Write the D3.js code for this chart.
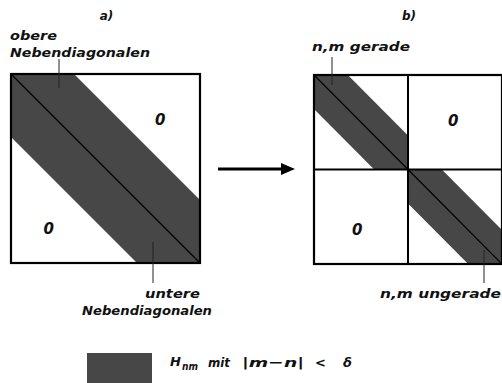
<!DOCTYPE html>
<html>
<head>
<meta charset="utf-8">
<script src="https://cdn.jsdelivr.net/npm/d3@7"></script>
<style>
  body { margin: 0; background: #fff; }
  text { font-family: "DejaVu Sans", sans-serif; font-weight: bold; font-style: italic; fill: #111; }
</style>
</head>
<body>
<svg></svg>
<script>
var width = 502;
var height = 383;

// panel data (domain 0..1 in matrix units)
var panelTitles = ["a)", "b)"];
var blocksA = [[0, 0, 1]];                     // x0, y0, size
var blocksB = [[0, 0, 0.5], [0.5, 0.5, 0.5]];
var bandWidth = [1 / 3, 0.36];                 // half width of band, fraction of block
var gridB = [0.5];
var zerosA = [[0.79, 0.24], [0.20, 0.82]];
var zerosB = [[0.74, 0.24], [0.23, 0.82]];
var zeroLabel = "0";

// annotation texts: text, x, baseline y, width in px
var labels = [
  ["obere", 10, 40, 47],
  ["Nebendiagonalen", 10, 57, 140],
  ["untere", 145, 298, 55],
  ["Nebendiagonalen", 82, 315, 130],
  ["n,m gerade", 312, 51, 98],
  ["n,m ungerade", 380, 298, 121]
];
// leader lines: x, y1, y2
var leaders = [[59, 59, 88], [153, 242, 283], [332, 57, 85], [484, 250, 283]];

// legend pieces: text, x, baseline y, size, width
var legendParts = [
  ["H", 170, 366, 13, 0],
  ["nm", 182, 370, 11, 16],
  ["mit", 208, 367, 13, 22],
  ["|m\u2212n|", 242, 367, 13, 62],
  ["<", 315, 367, 13, 0],
  ["\u03b4", 343, 367, 13, 0]
];

var svg = d3.select("svg")
  .attr("width", width)
  .attr("height", height);

var dark = "#474747";

// pixel frames for the two matrices
var xa = d3.scaleLinear().domain([0, 1]).range([11, 200]);
var ya = d3.scaleLinear().domain([0, 1]).range([74, 263]);
var xb = d3.scaleLinear().domain([0, 1]).range([314, 502]);
var yb = d3.scaleLinear().domain([0, 1]).range([75, 264]);

function bandPoints(b, w, x, y) {
  var bx = b[0], by = b[1], s = b[2], d = w * s;
  var pts = [[bx, by], [bx + d, by], [bx + s, by + s - d], [bx + s, by + s],
             [bx + s - d, by + s], [bx, by + d]];
  return pts.map(function (p) { return x(p[0]) + "," + y(p[1]); }).join(" ");
}

function drawPanel(blocks, w, zeros, grid, x, y, title) {
  var g = svg.append("g");

  g.selectAll(".band").data(blocks).enter().append("polygon")
    .attr("points", function (b) { return bandPoints(b, w, x, y); })
    .attr("fill", dark);

  g.selectAll(".diag").data(blocks).enter().append("line")
    .attr("x1", function (b) { return x(b[0]); })
    .attr("y1", function (b) { return y(b[1]); })
    .attr("x2", function (b) { return x(b[0] + b[2]); })
    .attr("y2", function (b) { return y(b[1] + b[2]); })
    .attr("stroke", "#000")
    .attr("stroke-width", 1.2);

  grid.forEach(function (v) {
    g.append("line").attr("x1", x(v)).attr("x2", x(v)).attr("y1", y(0)).attr("y2", y(1))
      .attr("stroke", "#000").attr("stroke-width", 2);
    g.append("line").attr("x1", x(0)).attr("x2", x(1)).attr("y1", y(v)).attr("y2", y(v))
      .attr("stroke", "#000").attr("stroke-width", 2);
  });

  g.append("rect")
    .attr("x", x(0)).attr("y", y(0))
    .attr("width", x(1) - x(0)).attr("height", y(1) - y(0))
    .attr("fill", "none")
    .attr("stroke", "#000")
    .attr("stroke-width", 2.2);

  g.selectAll(".zero").data(zeros).enter().append("text")
    .attr("x", function (p) { return x(p[0]); })
    .attr("y", function (p) { return y(p[1]); })
    .attr("dy", "0.36em")
    .attr("text-anchor", "middle")
    .attr("font-size", 15)
    .text(zeroLabel);

  g.append("text")
    .attr("x", (x(0) + x(1)) / 2 + 1)
    .attr("y", 20)
    .attr("text-anchor", "middle")
    .attr("font-size", 12)
    .text(title);
}

drawPanel(blocksA, bandWidth[0], zerosA, [], xa, ya, panelTitles[0]);
drawPanel(blocksB, bandWidth[1], zerosB, gridB, xb, yb, panelTitles[1]);

svg.selectAll(".lbl").data(labels).enter().append("text")
  .attr("x", function (d) { return d[1]; })
  .attr("y", function (d) { return d[2]; })
  .attr("font-size", 13)
  .attr("textLength", function (d) { return d[3]; })
  .attr("lengthAdjust", "spacingAndGlyphs")
  .text(function (d) { return d[0]; });

svg.selectAll(".lead").data(leaders).enter().append("line")
  .attr("x1", function (d) { return d[0]; })
  .attr("x2", function (d) { return d[0]; })
  .attr("y1", function (d) { return d[1]; })
  .attr("y2", function (d) { return d[2]; })
  .attr("stroke", "#222").attr("stroke-width", 1);

// arrow
svg.append("line").attr("x1", 218).attr("x2", 283).attr("y1", 169).attr("y2", 169)
  .attr("stroke", "#000").attr("stroke-width", 3);
svg.append("path").attr("d", "M281,163 L295,169 L281,175 Z").attr("fill", "#000");

// legend
svg.append("rect").attr("x", 87).attr("y", 353).attr("width", 65).attr("height", 30)
  .attr("fill", dark);
svg.selectAll(".leg").data(legendParts).enter().append("text")
  .attr("x", function (d) { return d[1]; })
  .attr("y", function (d) { return d[2]; })
  .attr("font-size", function (d) { return d[3]; })
  .each(function (d) {
    if (d[4]) d3.select(this).attr("textLength", d[4]).attr("lengthAdjust", "spacingAndGlyphs");
  })
  .text(function (d) { return d[0]; });
</script>
</body>
</html>
